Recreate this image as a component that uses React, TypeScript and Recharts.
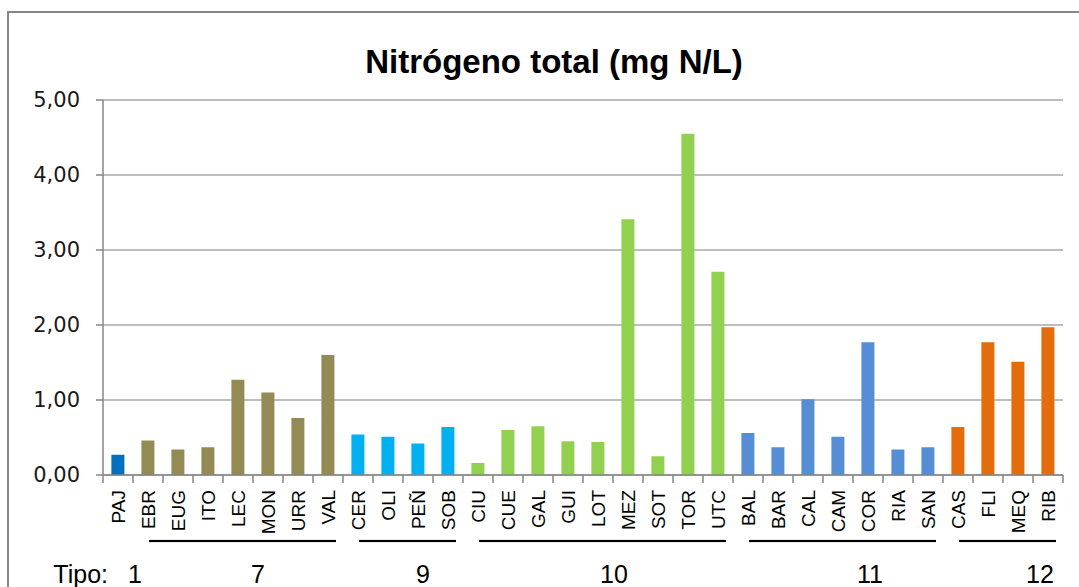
import { BarChart, Bar, XAxis, YAxis, CartesianGrid, Cell } from 'recharts'

const categories = ['PAJ', 'EBR', 'EUG', 'ITO', 'LEC', 'MON', 'URR', 'VAL', 'CER', 'OLI', 'PEÑ', 'SOB', 'CIU', 'CUE', 'GAL', 'GUI', 'LOT', 'MEZ', 'SOT', 'TOR', 'UTC', 'BAL', 'BAR', 'CAL', 'CAM', 'COR', 'RIA', 'SAN', 'CAS', 'FLI', 'MEQ', 'RIB']
const nitrogeno = [0.27, 0.46, 0.34, 0.37, 1.27, 1.1, 0.76, 1.6, 0.54, 0.51, 0.42, 0.64, 0.16, 0.6, 0.65, 0.45, 0.44, 3.41, 0.25, 4.55, 2.71, 0.56, 0.37, 1.01, 0.51, 1.77, 0.34, 0.37, 0.64, 1.77, 1.51, 1.97]
const tipos = ['1', '7', '7', '7', '7', '7', '7', '7', '9', '9', '9', '9', '10', '10', '10', '10', '10', '10', '10', '10', '10', '11', '11', '11', '11', '11', '11', '11', '12', '12', '12', '12']
const yTicks = [0, 1, 2, 3, 4, 5]

const tipoColors: Record<string, string> = {
  '1': '#0070c0',
  '7': '#948a54',
  '9': '#00b0f0',
  '10': '#92d050',
  '11': '#558ed5',
  '12': '#e46c0a',
}
// horizontal nudge of the "Tipo" numbers from their group centre
const tipoShift: Record<string, number> = { '1': 17, '7': 20, '9': 20, '10': 16, '11': 32, '12': 37 }

const data = categories.map((name, i) => ({ name, value: nitrogeno[i], tipo: tipos[i] }))

const font = "'Liberation Sans', Arial, sans-serif"

const CategoryTick = (props: any) => {
  const { x, y, payload } = props
  const i = payload.index
  const half = payload.offset || 15
  const axisY = y - 15
  const tipo = tipos[i]
  const isFirst = i === 0 || tipos[i - 1] !== tipo
  const isLast = i === tipos.length - 1 || tipos[i + 1] !== tipo
  let size = 0
  if (isFirst) {
    while (tipos[i + size] === tipo) size++
  }
  const lineY = axisY + 66
  return (
    <g>
      <line x1={x - half} x2={x - half} y1={axisY} y2={axisY + 8} stroke="#868686" strokeWidth={1.5} />
      {i === tipos.length - 1 && (
        <line x1={x + half} x2={x + half} y1={axisY} y2={axisY + 8} stroke="#868686" strokeWidth={1.5} />
      )}
      <text
        x={x}
        y={y}
        transform={`rotate(-90, ${x}, ${y})`}
        textAnchor="end"
        dy="0.35em"
        fontSize={19}
        fontFamily={font}
        fill="#000"
      >
        {payload.value}
      </text>
      {tipo !== '1' && (
        <line x1={isFirst ? x + 1 : x - half} x2={isLast ? x + 8 : x + half} y1={lineY} y2={lineY} stroke="#000" strokeWidth={2.2} />
      )}
      {isFirst && (
        <text x={x + (size - 1) * half + tipoShift[tipo]} y={axisY + 108} textAnchor="middle" fontSize={25} fontFamily={font} fill="#000">
          {tipo}
        </text>
      )}
      {i === 0 && (
        <text x={x - 10} y={axisY + 108} textAnchor="end" fontSize={25} fontFamily={font} fill="#000">
          Tipo:
        </text>
      )}
    </g>
  )
}

export default function App() {
  return (
    <div style={{ position: 'absolute', left: 0, top: 0, width: 1079, height: 587, overflow: 'hidden', background: '#fff', fontFamily: font }}>
      <div style={{ position: 'absolute', left: 7, top: 11, width: 1100, height: 600, border: '2px solid #878787' }} />
      <div style={{ position: 'absolute', left: 8, width: 1092, top: 43, textAlign: 'center', fontSize: 33, fontWeight: 'bold', color: '#000' }}>
        Nitrógeno total (mg N/L)
      </div>
      <div style={{ position: 'absolute', left: 0, top: 0 }}>
        <BarChart width={1079} height={587} data={data} margin={{ top: 100, right: 16, left: 8, bottom: 0 }} barCategoryGap="28%">
          <CartesianGrid vertical={false} stroke="#a8a8a8" strokeWidth={1.5} />
          <XAxis
            dataKey="name"
            interval={0}
            height={112}
            tickLine={false}
            tickSize={8}
            tickMargin={7}
            axisLine={{ stroke: '#868686', strokeWidth: 1.5 }}
            tick={<CategoryTick />}
          />
          <YAxis
            domain={[0, 5]}
            ticks={yTicks}
            width={95}
            tickSize={7}
            tickMargin={16}
            axisLine={{ stroke: '#868686', strokeWidth: 1.5 }}
            tickLine={{ stroke: '#868686', strokeWidth: 1.5 }}
            tick={{ fontSize: 21, fill: '#1a1a1a', fontFamily: "'DejaVu Sans', sans-serif" }}
            tickFormatter={(v: number) => v.toFixed(2).replace('.', ',')}
          />
          <Bar dataKey="value" isAnimationActive={false}>
            {data.map((d, i) => (
              <Cell key={i} fill={tipoColors[d.tipo]} />
            ))}
          </Bar>
        </BarChart>
      </div>
    </div>
  )
}
